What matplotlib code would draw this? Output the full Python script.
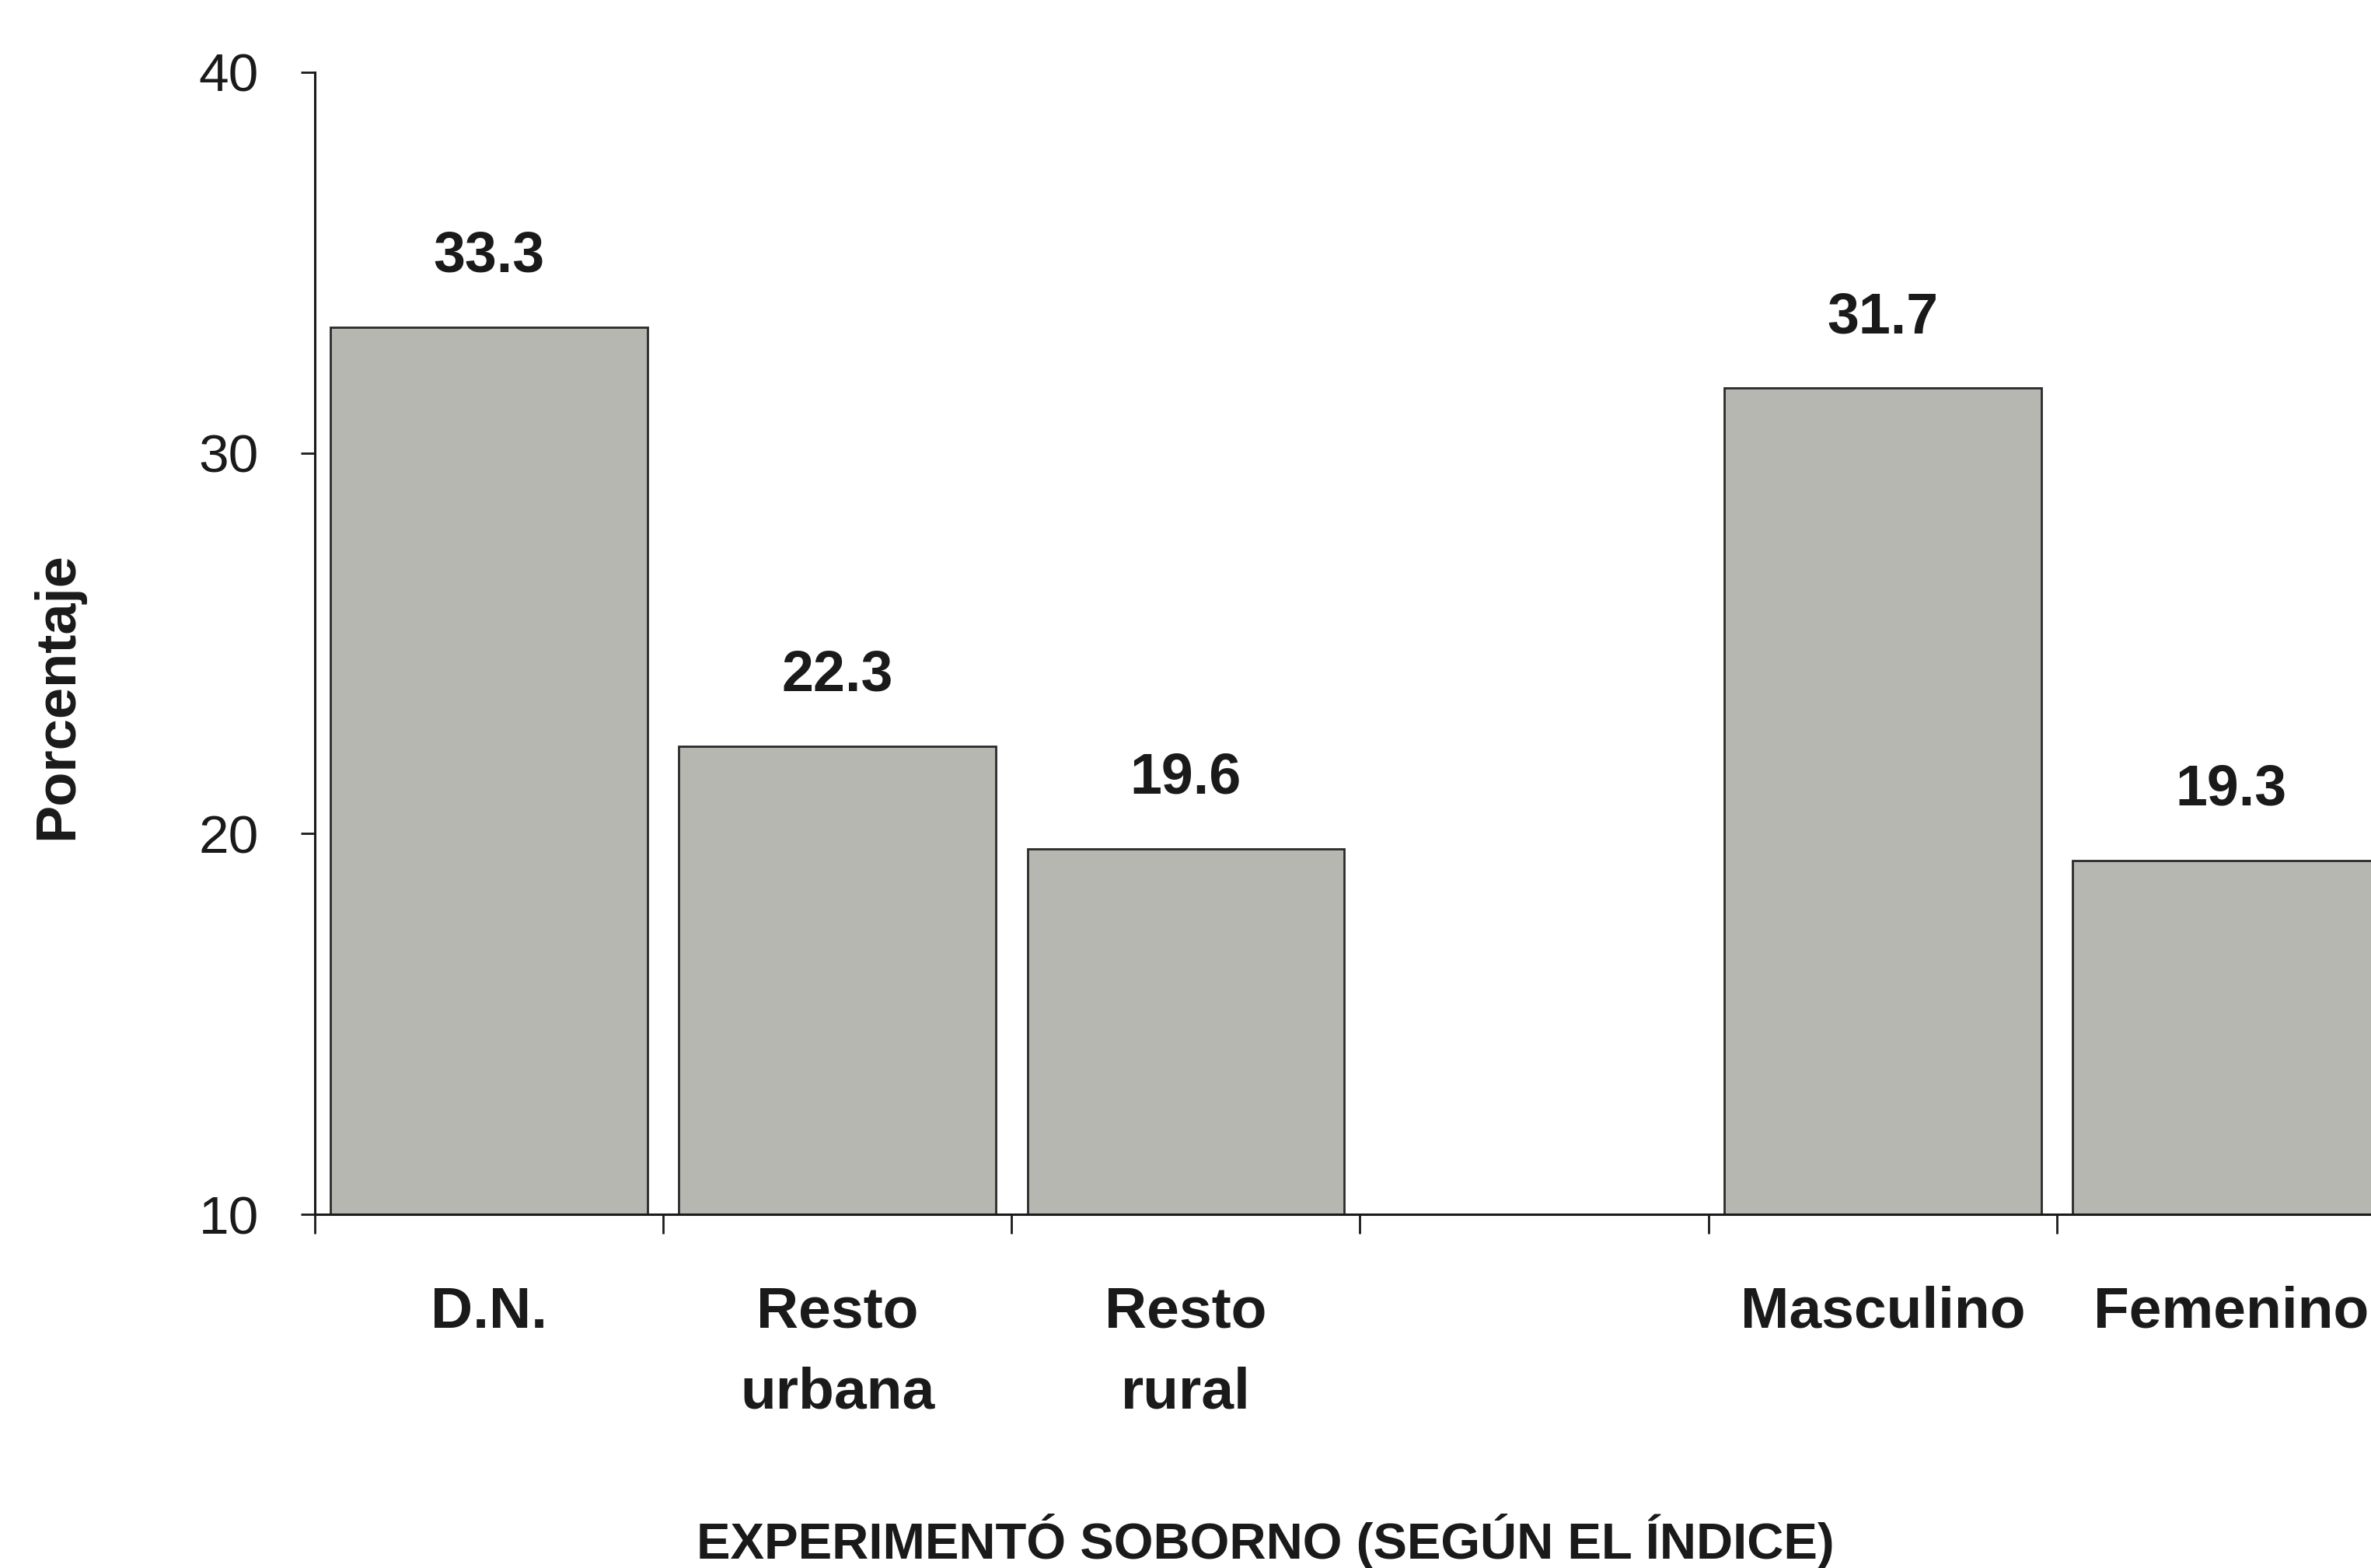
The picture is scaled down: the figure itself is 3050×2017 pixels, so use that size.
import matplotlib
matplotlib.use("Agg")
import matplotlib.pyplot as plt
from matplotlib import font_manager as fm

categories = ["D.N.", "Resto\nurbana", "Resto\nrural", "", "Masculino", "Femenino"]
values = [33.3, 22.3, 19.6, None, 31.7, 19.3]
yticks = [10, 20, 30, 40]
xlabel = "EXPERIMENTÓ SOBORNO (SEGÚN EL ÍNDICE)"
ylabel = "Porcentaje"

names = {f.name for f in fm.fontManager.ttflist}
narrow = "Liberation Sans Narrow" if "Liberation Sans Narrow" in names else "Liberation Sans"
plt.rcParams['font.family'] = [narrow, 'DejaVu Sans']

W, H = 3050, 2017
fig = plt.figure(figsize=(W / 100, H / 100), dpi=100)
left = 405 / W
right = 3094 / W
top = 1 - 93 / H
bottom = 1 - 1562 / H
ax = fig.add_axes([left, bottom, right - left, top - bottom])

xs = list(range(len(categories)))
for x, v in zip(xs, values):
    if v is None:
        continue
    ax.bar(x, v - 10, bottom=10, width=0.91, color='#b7b7b1', edgecolor='#2a2a2a', linewidth=2.0)
    ax.text(x, v + 1.15, f"{v:.1f}", ha='center', va='bottom', fontsize=53, fontweight='bold', color='#1a1a1a')

ax.set_xlim(-0.5, len(categories) - 0.5)
ax.set_ylim(10, 40)
ax.set_yticks(yticks)
ax.set_yticklabels([str(t) for t in yticks], fontsize=50, color='#1a1a1a')
ax.tick_params(axis='y', length=13, width=2, pad=39, colors='#1a1a1a')

ax.set_xticks(xs)
ax.set_xticklabels(categories, fontsize=54, fontweight='bold', color='#1a1a1a', linespacing=1.65)
ax.tick_params(axis='x', which='major', length=0, pad=66)
ax.set_xticks([x - 0.5 for x in range(len(categories) + 1)], minor=True)
ax.tick_params(axis='x', which='minor', length=18, width=2, color='#1a1a1a')

for s in ['top', 'right']:
    ax.spines[s].set_visible(False)
for s in ['left', 'bottom']:
    ax.spines[s].set_linewidth(2.2)
    ax.spines[s].set_color('#1a1a1a')

fig.text(1628 / W, 1 - 1982 / H, xlabel, ha='center', va='center', fontsize=47, fontweight='bold', color='#1a1a1a')
fig.text(74 / W, 1 - 895 / H, ylabel, ha='center', va='center', rotation=90, fontsize=52, fontweight='bold', color='#1a1a1a')

fig.savefig("out.png", dpi=100, facecolor='white')
